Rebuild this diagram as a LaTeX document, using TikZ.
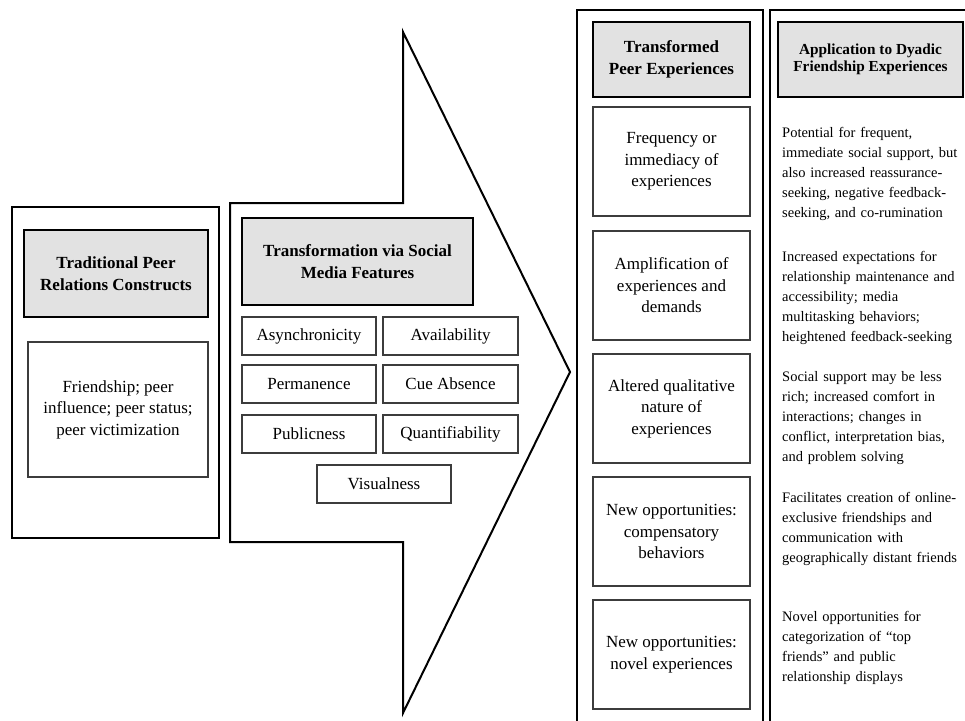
\documentclass[tikz,border=0pt]{standalone}
\usepackage{fontspec}
\setmainfont{Liberation Serif}
\definecolor{headgray}{RGB}{226,226,226}
\definecolor{itemline}{RGB}{60,60,60}
\begin{document}
\begin{tikzpicture}[x=1pt,y=-1pt,
  outerbox/.style={draw=black,line width=2pt,inner sep=0pt},
  headbox/.style={draw=black,line width=2.6pt,fill=headgray,align=center,inner sep=0pt,
    font=\fontsize{17}{22}\selectfont\bfseries},
  headsmall/.style={headbox,font=\fontsize{15.3}{17.5}\selectfont\bfseries},
  itembox/.style={draw=itemline,line width=1.3pt,fill=white,align=center,inner sep=0pt,
    font=\fontsize{17}{21.5}\selectfont},
  featbox/.style={itembox,minimum width=134pt,minimum height=38pt},
  expbox/.style={itembox,minimum width=157pt,minimum height=109pt},
  para/.style={anchor=base west,inner sep=0pt,text width=200pt,align=left,
    font=\fontsize{14.5}{20}\selectfont}
]
\clip (0,0) rectangle (965,720);
\fill[white] (0,0) rectangle (965,720);

% left column
\node[outerbox,minimum width=207pt,minimum height=331pt] (leftouter) at (115.5,372.5) {};
\node[headbox,minimum width=184pt,minimum height=87pt] (lefthead) at (116,273.5)
  {Traditional Peer\\Relations Constructs};
\node[itembox,minimum width=180pt,minimum height=135pt] (leftitem) at (118,409.5)
  {Friendship; peer\\influence; peer status;\\peer victimization};

% middle arrow
\draw[line width=2pt,line join=miter,fill=white]
  (230,203) -- (403,203) -- (403,32) -- (570,372) -- (403,713) -- (403,542) -- (230,542) -- cycle;
\node[headbox,minimum width=231pt,minimum height=87pt] (midhead) at (357.5,261.5)
  {Transformation via Social\\Media Features};
\node[featbox] (async) at (309,336) {Asynchronicity};
\node[featbox,minimum width=135pt] (avail) at (450.5,336) {Availability};
\node[featbox] (perm) at (309,384) {Permanence};
\node[featbox,minimum width=135pt] (cue) at (450.5,384) {Cue Absence};
\node[featbox] (publ) at (309,434) {Publicness};
\node[featbox,minimum width=135pt] (quant) at (450.5,434) {Quantifiability};
\node[featbox] (visual) at (384,484) {Visualness};

% third column
\draw[line width=2pt] (577,740) -- (577,10) -- (763,10) -- (763,740);
\node[headbox,minimum width=157pt,minimum height=75pt] (exphead) at (671.5,59.5)
  {Transformed\\Peer Experiences};
\node[expbox] (exp1) at (671.5,161.5) {Frequency or\\immediacy of\\experiences};
\node[expbox] (exp2) at (671.5,285.5) {Amplification of\\experiences and\\demands};
\node[expbox] (exp3) at (671.5,408.5) {Altered qualitative\\nature of\\experiences};
\node[expbox] (exp4) at (671.5,531.5) {New opportunities:\\compensatory\\behaviors};
\node[expbox] (exp5) at (671.5,654.5) {New opportunities:\\novel experiences};

% fourth column
\draw[line width=2pt] (770,740) -- (770,10) -- (980,10);
\node[headsmall,minimum width=185pt,minimum height=75pt] (apphead) at (870.5,59.5)
  {Application to Dyadic\\Friendship Experiences};
\node[para] (app1) at (782,137) {Potential for frequent,\\immediate social support, but\\also increased reassurance-\\seeking, negative feedback-\\seeking, and co-rumination};
\node[para] (app2) at (782,261) {Increased expectations for\\relationship maintenance and\\accessibility; media\\multitasking behaviors;\\heightened feedback-seeking};
\node[para] (app3) at (782,381) {Social support may be less\\rich; increased comfort in\\interactions; changes in\\conflict, interpretation bias,\\and problem solving};
\node[para] (app4) at (782,502) {Facilitates creation of online-\\exclusive friendships and\\communication with\\geographically distant friends};
\node[para] (app5) at (782,621) {Novel opportunities for\\categorization of ``top\\friends'' and public\\relationship displays};
\end{tikzpicture}
\end{document}
